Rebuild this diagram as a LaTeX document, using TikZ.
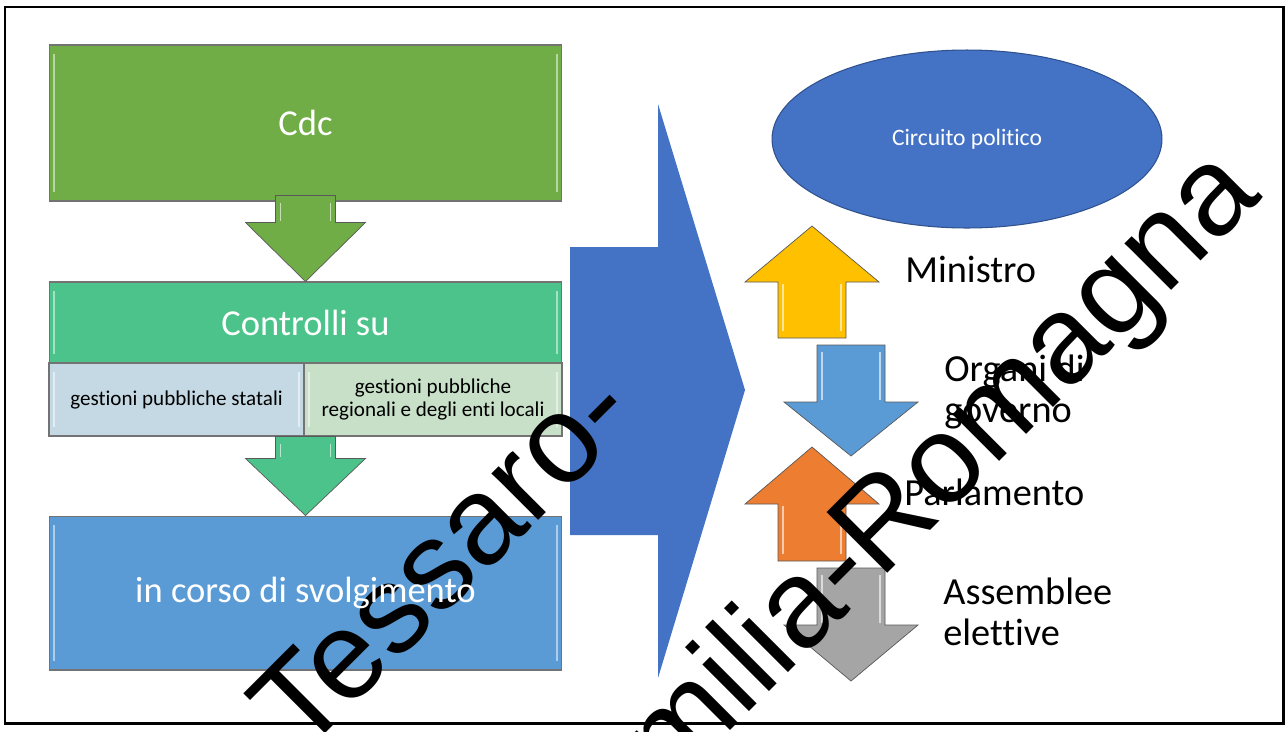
\documentclass[tikz,border=0pt]{standalone}
\usepackage{fontspec}
\setmainfont{Carlito}[Ligatures=NoCommon]
\newfontfamily\wmfont{Liberation Sans}
\usetikzlibrary{calc,shapes.geometric}

\definecolor{cdcgreen}{HTML}{70AD47}
\definecolor{ctrlgreen}{HTML}{4CC38A}
\definecolor{statblue}{HTML}{C5D9E4}
\definecolor{regiogreen}{HTML}{C8E0C8}
\definecolor{svolblue}{HTML}{5B9BD5}
\definecolor{bigblue}{HTML}{4472C4}
\definecolor{ellline}{HTML}{2F528F}
\definecolor{minyellow}{HTML}{FFC000}
\definecolor{parlorange}{HTML}{ED7D31}
\definecolor{assgray}{HTML}{A5A5A5}

% vertical block arrow: x, shaft end, head base, tip, fill
\newcommand{\vblock}[5]{%
  \filldraw[blockarr, fill=#5] ({#1-34},#2) -- ({#1-34},#3) -- ({#1-67},#3) -- (#1,#4)
    -- ({#1+67},#3) -- ({#1+34},#3) -- ({#1+34},#2) -- cycle;
  \draw[shine] ({#1-29},#2) -- ({#1-29},#3);
  \draw[shine] ({#1+29},#2) -- ({#1+29},#3);
}

\begin{document}
\begin{tikzpicture}[x=0.02cm, y=-0.02cm,
  box/.style={draw=black!55, line width=0.6pt, inner sep=0pt, minimum width=10.26cm, bevel},
  bevel/.style={path picture={
      \draw[white, opacity=0.5, line width=1.1pt]
        ([xshift=3pt,yshift=-5pt]path picture bounding box.north west) --
        ([xshift=3pt,yshift=5pt]path picture bounding box.south west);
      \draw[white, opacity=0.5, line width=1.1pt]
        ([xshift=-3pt,yshift=-5pt]path picture bounding box.north east) --
        ([xshift=-3pt,yshift=5pt]path picture bounding box.south east);}},
  boxtxt/.style={text=white, font=\fontsize{20.8}{25}\selectfont},
  subtxt/.style={font=\fontsize{12}{13.6}\selectfont, align=center},
  sidetxt/.style={font=\fontsize{21.8}{23.6}\selectfont, align=left, inner sep=0pt},
  blockarr/.style={draw=black!65, line width=0.4pt},
  shine/.style={white, opacity=0.6, line width=1.1pt, shorten <=4pt, shorten >=1pt},
  wm/.style={font=\wmfont\fontsize{71}{71}\selectfont, text=black, rotate=45, anchor=base west, inner sep=0pt},
]
\useasboundingbox (0,0) rectangle (1287,731);
\clip (0,0) rectangle (1287,731);
\fill[white] (0,0) rectangle (1287,731);

% === CONTROL CHAIN (left) ===
\node[box, fill=cdcgreen, minimum height=3.12cm] (cdc) at (305.5,123) {};
\node[box, fill=ctrlgreen, minimum height=1.62cm] (ctrl) at (305.5,322.5) {};
\node[box, fill=statblue, minimum width=5.1cm, minimum height=1.46cm] (subl) at (176.5,399.5) {};
\node[box, fill=regiogreen, minimum width=5.16cm, minimum height=1.46cm] (subr) at (433,399.5) {};
\node[box, fill=svolblue, minimum height=3.08cm] (svolg) at (305.5,593) {};

\filldraw[blockarr, fill=cdcgreen]
  ($(ctrl.north |- cdc.south)+(-30,-6)$) -- ($(ctrl.north)+(-30,-59)$) -- ($(ctrl.north)+(-60,-59)$)
  -- (ctrl.north) -- ($(ctrl.north)+(60,-59)$) -- ($(ctrl.north)+(30,-59)$)
  -- ($(ctrl.north |- cdc.south)+(30,-6)$) -- cycle;
\draw[shine] ($(ctrl.north |- cdc.south)+(-25,-6)$) -- ($(ctrl.north)+(-25,-59)$);
\draw[shine] ($(ctrl.north |- cdc.south)+(25,-6)$) -- ($(ctrl.north)+(25,-59)$);

\filldraw[blockarr, fill=ctrlgreen]
  ($(svolg.north |- subl.south)+(-30,0)$) -- ($(svolg.north)+(-30,-57)$) -- ($(svolg.north)+(-60,-57)$)
  -- (svolg.north) -- ($(svolg.north)+(60,-57)$) -- ($(svolg.north)+(30,-57)$)
  -- ($(svolg.north |- subl.south)+(30,0)$) -- cycle;
\draw[shine] ($(svolg.north |- subl.south)+(-25,0)$) -- ($(svolg.north)+(-25,-57)$);
\draw[shine] ($(svolg.north |- subl.south)+(25,0)$) -- ($(svolg.north)+(25,-57)$);

% === BIG ARROW (middle) ===
\fill[bigblue] (570,247) -- (658,247) -- (658,104) -- (745,390) -- (658,678) -- (658,535) -- (570,535) -- cycle;

% === POLITICAL CIRCUIT (right) ===
\node[ellipse, fill=bigblue, draw=ellline, line width=0.6pt, minimum width=7.8cm, minimum height=3.56cm,
  inner sep=0pt, text=white, font=\fontsize{13.4}{16}\selectfont] (circ) at (967,139) {Circuito politico};

\vblock{812}{338}{282}{226}{minyellow}
\vblock{851}{345}{402}{456}{svolblue}
\vblock{812}{561}{504}{447}{parlorange}
\vblock{851}{568}{625}{681}{assgray}

% frame
\draw[line width=1.7pt] (5,7) rectangle (1283,723);

% watermark
\node[wm] (wm-a) at (302,757) {Tessaro-};
\node[wm] (wm-b) at (611,850) {Emilia-Romagna};

% labels on top
\node[boxtxt] (cdc-t) at (cdc) {Cdc};
\node[boxtxt] (ctrl-t) at (ctrl) {Controlli su};
\node[subtxt] (subl-t) at (subl) {gestioni pubbliche statali};
\node[subtxt] (subr-t) at (subr) {gestioni pubbliche\\regionali e degli enti locali};
\node[boxtxt] (svolg-t) at (svolg) {in corso di svolgimento};

\node[sidetxt, anchor=base west] (min-t) at (905,282) {Ministro};
\node[sidetxt, anchor=west] (org-t) at (944,392) {Organi di\\governo};
\node[sidetxt, anchor=base west] (parl-t) at (904,505) {Parlamento};
\node[sidetxt, anchor=west] (ass-t) at (943,612) {Assemblee\\elettive};
\end{tikzpicture}
\end{document}
